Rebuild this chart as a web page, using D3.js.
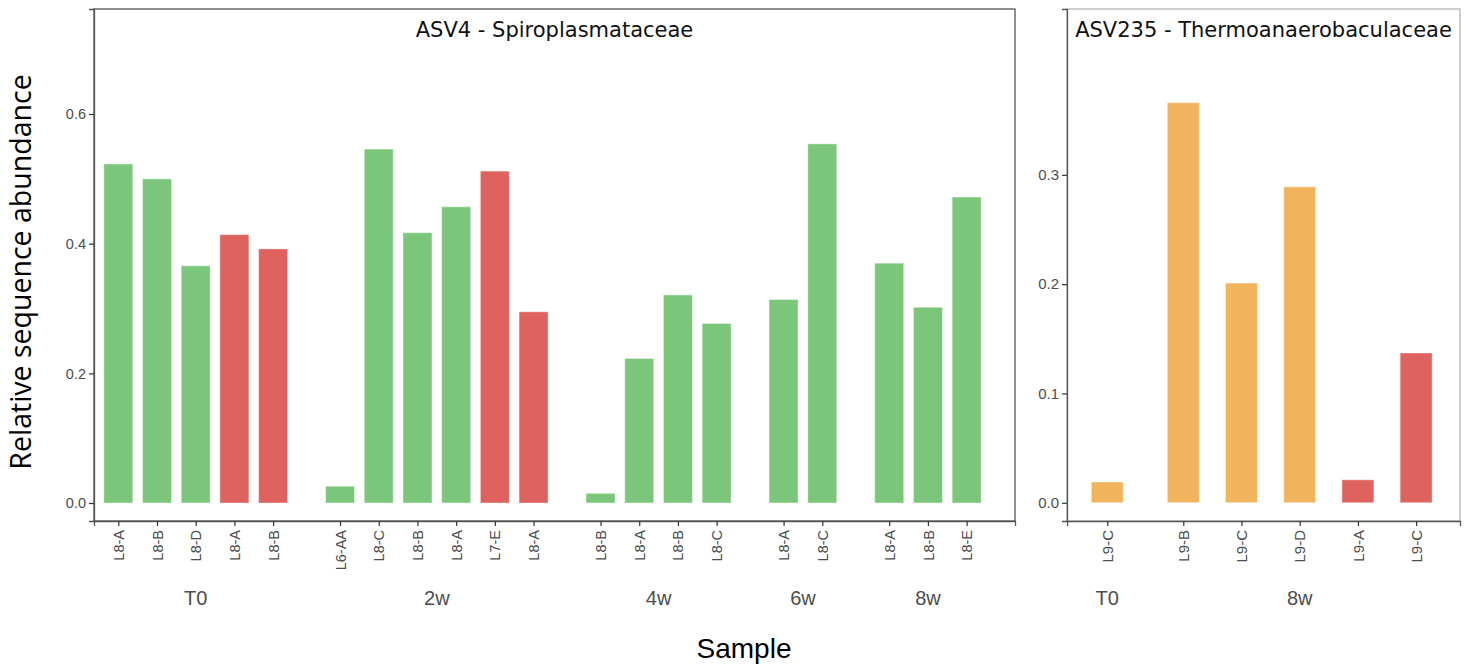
<!DOCTYPE html>
<html>
<head>
<meta charset="utf-8">
<script src="https://cdn.jsdelivr.net/npm/d3@7"></script>
<style>
  body { margin: 0; background: #fff; }
  svg { display: block; }
</style>
</head>
<body>
<div id="chart"></div>
<script>
// ASV4 panel
var leftGroups = ['T0', '2w', '4w', '6w', '8w'];
var leftSamples = ['L8-A', 'L8-B', 'L8-D', 'L8-A', 'L8-B',
                   'L6-AA', 'L8-C', 'L8-B', 'L8-A', 'L7-E', 'L8-A',
                   'L8-B', 'L8-A', 'L8-B', 'L8-C',
                   'L8-A', 'L8-C',
                   'L8-A', 'L8-B', 'L8-E'];
var leftSampleGroup = ['T0', 'T0', 'T0', 'T0', 'T0',
                       '2w', '2w', '2w', '2w', '2w', '2w',
                       '4w', '4w', '4w', '4w',
                       '6w', '6w',
                       '8w', '8w', '8w'];
var leftValues = [0.523, 0.500, 0.366, 0.414, 0.392,
                  0.026, 0.546, 0.417, 0.457, 0.512, 0.295,
                  0.015, 0.223, 0.321, 0.277,
                  0.314, 0.554,
                  0.370, 0.302, 0.472];
var leftKind = ['g', 'g', 'g', 'r', 'r',
                'g', 'g', 'g', 'g', 'r', 'r',
                'g', 'g', 'g', 'g',
                'g', 'g',
                'g', 'g', 'g'];
var leftTicks = [0, 0.2, 0.4, 0.6];

// ASV235 panel
var rightGroups = ['T0', '8w'];
var rightSamples = ['L9-C', 'L9-B', 'L9-C', 'L9-D', 'L9-A', 'L9-C'];
var rightSampleGroup = ['T0', '8w', '8w', '8w', '8w', '8w'];
var rightValues = [0.019, 0.366, 0.201, 0.289, 0.021, 0.137];
var rightKind = ['o', 'o', 'o', 'o', 'r', 'r'];
var rightTicks = [0, 0.1, 0.2, 0.3];

var color = d3.scaleOrdinal()
    .domain(['g', 'r', 'o'])
    .range(['#7cc67b', '#de625e', '#f1b45c']);

var svg = d3.select('#chart').append('svg')
    .attr('width', 1476)
    .attr('height', 669);

function drawPanel(opt) {
  // position in "slot" units, with an extra gap between groups
  var rows = opt.samples.map(function(s, i) {
    return {
      label: s,
      group: opt.sampleGroup[i],
      value: opt.values[i],
      kind: opt.kind[i],
      pos: i + opt.groups.indexOf(opt.sampleGroup[i]) * opt.gap
    };
  });

  var x = d3.scaleLinear().domain(opt.xDomain).range([opt.left, opt.right]);
  var y = d3.scaleLinear().domain(opt.yDomain).range([opt.bottom, opt.top]);
  var bw = x(opt.barWidth) - x(0);

  var g = svg.append('g');

  g.selectAll('rect.bar')
      .data(rows)
    .enter().append('rect')
      .attr('class', 'bar')
      .attr('x', function(d) { return x(d.pos) - bw / 2; })
      .attr('y', function(d) { return y(d.value); })
      .attr('width', bw)
      .attr('height', function(d) { return y(0) - y(d.value); })
      .style('fill', function(d) { return color(d.kind); })
      .style('stroke', '#ffffff')
      .style('stroke-opacity', 0.45)
      .style('stroke-width', 1);

  // frame
  g.append('rect')
      .attr('x', opt.left)
      .attr('y', opt.top)
      .attr('width', opt.right - opt.left)
      .attr('height', opt.bottom - opt.top)
      .style('fill', 'none')
      .style('stroke', opt.frameColor)
      .style('stroke-width', 1.3);

  var yAxis = g.append('g')
      .attr('transform', 'translate(' + opt.left + ',0)')
      .call(d3.axisLeft(y).tickValues(opt.yTicks).tickFormat(d3.format('.1f')).tickSize(5).tickPadding(3));
  var xAxis = g.append('g')
      .attr('transform', 'translate(0,' + opt.bottom + ')')
      .call(d3.axisBottom(x).tickValues(rows.map(function(d) { return d.pos; })).tickSize(5).tickPadding(4)
        .tickFormat(function(p, i) { return rows[i].label; }));

  [yAxis, xAxis].forEach(function(ax) {
    ax.select('.domain').style('stroke', '#555').style('stroke-width', 1.3);
    ax.selectAll('.tick line').style('stroke', '#333').style('stroke-width', 1.2);
    ax.selectAll('.tick text')
      .style('fill', '#4d4d4d')
      .style('font-family', '"Liberation Sans", Arial, sans-serif')
      .style('font-size', opt.tickFont + 'px');
  });

  xAxis.selectAll('.tick text')
      .attr('transform', 'rotate(-90)')
      .attr('text-anchor', 'end')
      .attr('x', -9)
      .attr('y', 0)
      .attr('dy', '0.35em');

  // group labels below sample labels
  opt.groups.forEach(function(grp) {
    var ps = rows.filter(function(d) { return d.group === grp; }).map(function(d) { return d.pos; });
    g.append('text')
        .attr('x', x((d3.min(ps) + d3.max(ps)) / 2))
        .attr('y', 605)
        .attr('text-anchor', 'middle')
        .style('font-family', '"Liberation Sans", Arial, sans-serif')
        .style('font-size', '20px')
        .style('fill', '#4d4d4d')
        .text(grp);
  });

  g.append('text')
      .attr('x', (opt.left + opt.right) / 2)
      .attr('y', 37)
      .attr('text-anchor', 'middle')
      .style('font-family', '"DejaVu Sans", Verdana, sans-serif')
      .style('font-size', '21px')
      .style('fill', '#111')
      .text(opt.title);
}

drawPanel({
  title: 'ASV4 - Spiroplasmataceae',
  groups: leftGroups, samples: leftSamples, sampleGroup: leftSampleGroup,
  values: leftValues, kind: leftKind, yTicks: leftTicks,
  gap: 0.73, barWidth: 0.75,
  xDomain: [-0.628, 23.17], yDomain: [-0.0277, 0.762],
  left: 94, right: 1015, top: 9, bottom: 521,
  frameColor: '#555', tickFont: 14.5
});

drawPanel({
  title: 'ASV235 - Thermoanaerobaculaceae',
  groups: rightGroups, samples: rightSamples, sampleGroup: rightSampleGroup,
  values: rightValues, kind: rightKind, yTicks: rightTicks,
  gap: 0.306, barWidth: 0.55,
  xDomain: [-0.692, 6.06], yDomain: [-0.0167, 0.4517],
  left: 1067, right: 1460, top: 9, bottom: 521,
  frameColor: '#b3b3b3', tickFont: 15
});

// axis titles
svg.append('text')
    .attr('transform', 'translate(31,272) rotate(-90)')
    .attr('text-anchor', 'middle')
    .style('font-family', '"Open Sans", sans-serif')
    .style('font-size', '28.5px')
    .style('fill', '#000')
    .text('Relative sequence abundance');

svg.append('text')
    .attr('x', 744)
    .attr('y', 658)
    .attr('text-anchor', 'middle')
    .style('font-family', '"Liberation Sans", Arial, sans-serif')
    .style('font-size', '28px')
    .style('fill', '#000')
    .text('Sample');
</script>
</body>
</html>
